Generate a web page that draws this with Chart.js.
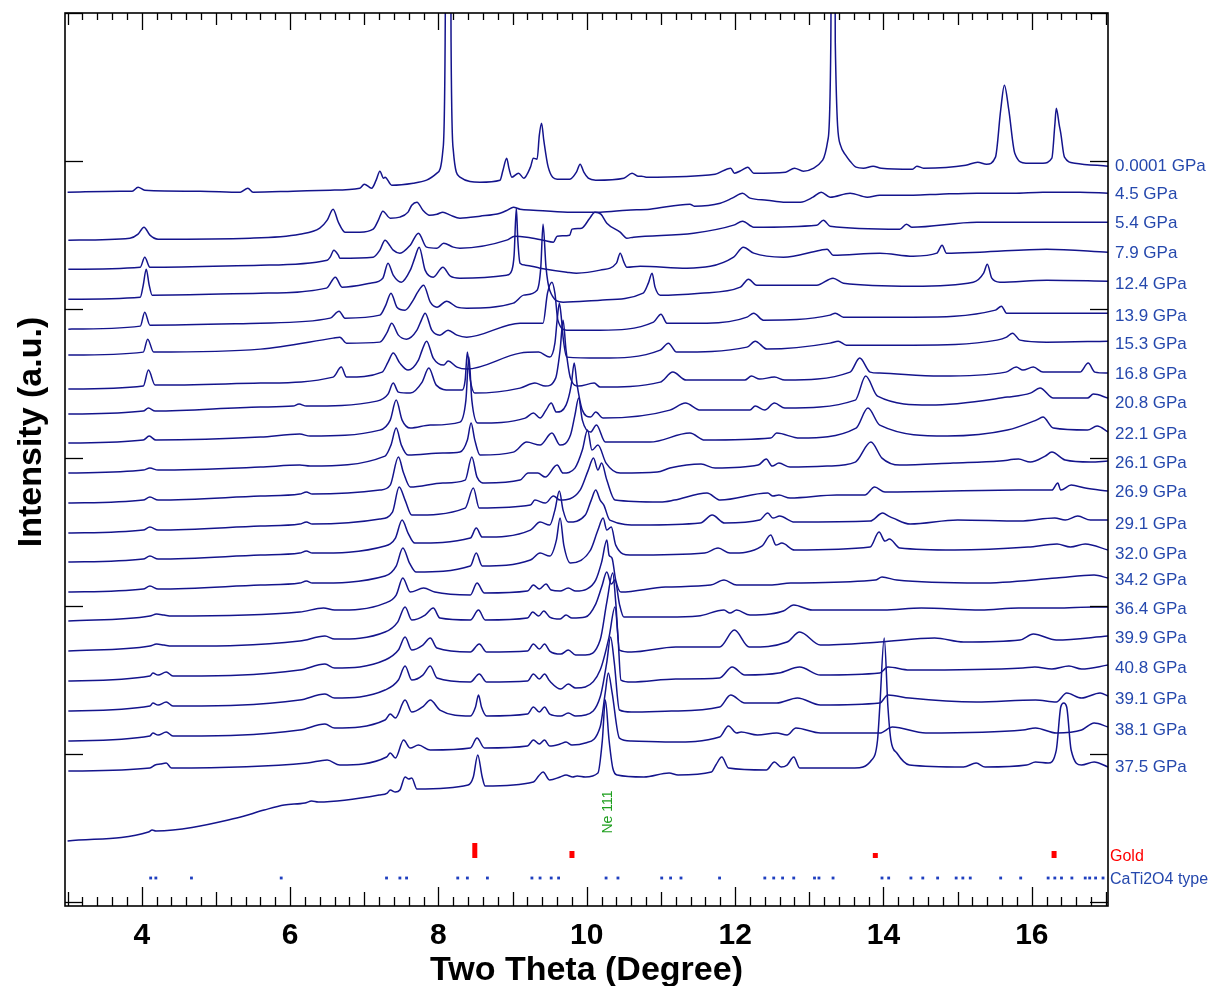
<!DOCTYPE html>
<html><head><meta charset="utf-8">
<script src="https://cdn.jsdelivr.net/npm/chart.js@4.4.1/dist/chart.umd.min.js"></script>
<style>html,body{margin:0;padding:0;background:#fff;}#wrap{position:relative;width:1216px;height:986px;}</style>
</head><body><div id="wrap"><canvas id="c" width="1216" height="986"></canvas></div>
<script>
// ---- pressure labels and the level (intensity) at which each label sits ----
const pressureLabels = ['0.0001 GPa','4.5 GPa','5.4 GPa','7.9 GPa','12.4 GPa','13.9 GPa','15.3 GPa','16.8 GPa','20.8 GPa','22.1 GPa','26.1 GPa','26.9 GPa','29.1 GPa','32.0 GPa','34.2 GPa','36.4 GPa','39.9 GPa','40.8 GPa','39.1 GPa','38.1 GPa','37.5 GPa'];
const labelLevels = [737,709,680,650,619,587,559,529,500,469,440,411,379,349,323,294,265,235,204,173,136];

// ---- patterns: [two theta (deg), intensity (a.u., offset-stacked)] ----
const p0001 = [[3.0,710],[3.71,711],[3.87,711],[3.95,715],[4.04,712],[4.79,711],[5.33,710],[5.43,714],[5.5,710],[6.04,711],[6.54,712],[6.94,714],[7.0,718],[7.1,714],[7.16,722],[7.21,731],[7.26,724],[7.28,725],[7.37,717],[7.66,719],[7.84,722],[7.98,729],[8.06,752],[8.09,860],[8.13,1600],[8.17,860],[8.2,752],[8.29,725],[8.56,720],[8.83,722],[8.87,732],[8.92,744],[8.95,734],[8.99,725],[9.08,729],[9.15,724],[9.24,735],[9.28,744],[9.33,743],[9.36,767],[9.39,779],[9.42,762],[9.48,735],[9.6,723],[9.77,723],[9.86,730],[9.91,738],[9.96,730],[10.02,724],[10.12,722],[10.5,724],[10.61,729],[10.69,726],[10.74,726],[10.8,725],[11.73,728],[11.94,734],[11.99,729],[12.09,732],[12.17,735],[12.25,729],[12.68,730],[12.8,734],[12.92,731],[13.06,734],[13.18,742],[13.25,762],[13.29,860],[13.32,1600],[13.35,860],[13.42,757],[13.49,747],[13.55,741],[13.63,735],[13.73,734],[13.86,736],[13.97,734],[14.39,733],[14.45,736],[14.54,734],[15.11,737],[15.27,740],[15.39,738],[15.51,745],[15.58,792],[15.63,817],[15.69,792],[15.77,749],[15.92,739],[16.15,739],[16.27,744],[16.31,777],[16.33,794],[16.37,777],[16.39,769],[16.44,745],[16.58,739],[17.03,736]];
const p45 = [[3.01,662],[3.84,664],[3.95,668],[4.03,675],[4.11,667],[4.22,663],[5.46,664],[6.13,668],[6.4,674],[6.5,682],[6.58,693],[6.65,680],[6.74,670],[6.94,670],[7.12,673],[7.19,682],[7.25,691],[7.35,684],[7.48,685],[7.59,690],[7.64,697],[7.71,700],[7.79,692],[7.88,687],[7.98,688],[8.06,690],[8.16,687],[8.29,684],[8.56,686],[8.83,689],[8.93,692],[9.01,695],[9.1,693],[9.28,692],[9.74,690],[10.18,690],[10.54,692],[10.85,693],[11.39,698],[11.45,696],[11.8,699],[11.96,704],[12.1,709],[12.2,704],[12.43,702],[12.65,700],[12.88,700],[13.05,705],[13.16,710],[13.28,705],[13.55,709],[13.78,705],[13.95,707],[14.4,707],[14.76,708],[15.26,709],[15.75,709],[16.15,710],[16.65,710],[17.03,709]];
const p54 = [[3.01,633],[3.98,635],[4.04,645],[4.11,635],[5.6,637],[6.5,642],[6.54,645],[6.59,652],[6.65,647],[6.67,644],[7.12,645],[7.21,652],[7.28,662],[7.35,656],[7.39,652],[7.48,649],[7.62,657],[7.73,669],[7.84,655],[7.98,654],[8.07,659],[8.2,655],[8.29,654],[8.92,662],[9.03,666],[9.19,665],[9.41,662],[9.55,660],[9.6,666],[9.77,667],[9.8,673],[9.93,674],[10.04,684],[10.11,690],[10.19,688],[10.27,679],[10.45,670],[10.54,664],[10.63,665],[11.44,669],[11.98,677],[12.1,681],[12.25,675],[13.1,677],[13.19,682],[13.28,676],[14.22,673],[14.31,678],[14.38,675],[15.26,680],[16.96,680],[17.03,680]];
const p79 = [[3.01,603],[3.98,605],[4.02,617],[4.06,633],[4.1,617],[4.14,607],[5.6,609],[6.49,614],[6.61,625],[6.7,615],[7.08,619],[7.25,624],[7.32,639],[7.39,627],[7.5,620],[7.62,632],[7.68,644],[7.74,655],[7.82,632],[7.93,625],[8.06,635],[8.16,626],[8.29,624],[8.92,627],[8.99,632],[9.02,647],[9.05,694],[9.07,662],[9.1,639],[9.17,637],[9.37,634],[9.73,630],[9.86,629],[10.18,632],[10.4,639],[10.45,649],[10.5,640],[10.54,635],[10.72,636],[11.35,634],[11.98,645],[12.11,655],[12.25,649],[12.65,645],[13.15,652],[13.24,653],[13.32,647],[13.95,649],[14.4,646],[14.72,649],[14.79,657],[14.85,649],[15.3,650],[16.2,653],[17.03,650]];
const p124 = [[3.01,573],[3.98,576],[4.04,590],[4.11,577],[5.6,579],[6.54,584],[6.66,591],[6.74,584],[7.21,587],[7.29,597],[7.36,609],[7.44,595],[7.55,592],[7.66,602],[7.72,610],[7.8,617],[7.89,600],[7.98,595],[8.11,601],[8.25,595],[8.38,594],[9.01,599],[9.15,607],[9.33,612],[9.38,635],[9.41,678],[9.45,635],[9.5,612],[9.68,600],[10.18,602],[10.76,609],[10.83,619],[10.88,629],[10.92,615],[10.99,607],[11.53,609],[12.07,615],[12.18,623],[12.29,617],[13.1,617],[13.32,624],[13.46,619],[14.4,616],[15.21,620],[15.35,629],[15.4,638],[15.46,624],[15.57,620],[16.2,622],[17.03,621]];
const p139 = [[3.01,547],[4.02,550],[4.08,563],[4.16,550],[5.6,553],[6.58,564],[6.67,565],[6.76,559],[7.21,560],[7.31,570],[7.37,579],[7.46,567],[7.57,563],[7.71,572],[7.77,582],[7.82,589],[7.91,572],[8.02,567],[8.13,572],[8.25,567],[8.38,565],[9.1,579],[9.41,579],[9.47,609],[9.53,620],[9.57,609],[9.61,582],[9.73,572],[10.18,572],[10.9,580],[11.0,588],[11.08,579],[11.62,579],[12.16,585],[12.25,589],[12.38,582],[13.28,587],[13.35,589],[13.46,585],[14.4,585],[15.51,592],[15.59,596],[15.66,589],[16.2,589],[17.03,589]];
const p153 = [[3.01,513],[4.02,516],[4.09,532],[4.18,517],[5.6,519],[6.58,525],[6.69,535],[6.76,525],[7.24,530],[7.32,540],[7.39,549],[7.48,539],[7.59,532],[7.73,542],[7.78,552],[7.84,561],[7.93,544],[8.07,537],[8.13,541],[8.25,535],[8.38,533],[9.1,549],[9.35,550],[9.5,545],[9.57,559],[9.6,582],[9.63,599],[9.66,582],[9.68,565],[9.73,545],[10.18,544],[10.99,552],[11.1,559],[11.21,550],[12.16,555],[12.27,561],[12.43,553],[13.28,559],[13.39,561],[13.5,557],[14.4,557],[15.53,562],[15.66,565],[15.74,569],[15.84,562],[16.2,560],[17.03,561]];
const p168 = [[3.01,488],[4.02,491],[4.09,494],[4.18,491],[5.6,495],[6.04,496],[6.12,498],[6.22,496],[7.17,501],[7.32,508],[7.39,519],[7.46,510],[7.62,509],[7.78,520],[7.87,534],[7.97,517],[8.16,512],[8.32,512],[8.36,522],[8.39,550],[8.43,522],[8.49,509],[9.1,514],[9.3,519],[9.44,516],[9.58,524],[9.64,552],[9.68,582],[9.72,552],[9.78,524],[9.89,516],[10.1,519],[10.18,515],[10.99,520],[11.16,530],[11.34,522],[12.13,522],[12.22,526],[12.33,523],[12.53,525],[12.67,522],[13.55,530],[13.68,544],[13.82,530],[13.95,529],[14.76,526],[15.65,530],[15.79,535],[15.88,532],[16.02,535],[16.15,530],[16.65,530],[16.76,539],[16.85,530],[17.03,529]];
const p208 = [[3.01,459],[4.02,462],[4.1,466],[4.19,462],[5.6,465],[6.13,468],[6.27,466],[7.21,472],[7.35,482],[7.43,502],[7.51,482],[7.62,474],[7.89,477],[8.29,480],[8.37,502],[8.41,545],[8.45,502],[8.53,479],[9.17,484],[9.28,489],[9.37,484],[9.45,492],[9.52,499],[9.59,490],[9.72,497],[9.79,517],[9.83,539],[9.87,517],[9.94,492],[10.05,485],[10.12,490],[10.22,484],[11.12,492],[11.33,499],[11.53,492],[12.2,492],[12.27,496],[12.4,492],[12.53,499],[12.67,494],[13.62,502],[13.76,526],[13.92,506],[14.63,497],[15.67,505],[15.98,509],[16.11,514],[16.29,504],[16.75,504],[16.83,508],[17.03,504]];
const p221 = [[3.01,429],[4.02,432],[4.11,434],[4.22,432],[5.6,435],[6.13,437],[6.27,436],[7.28,446],[7.36,457],[7.43,474],[7.5,457],[7.59,447],[8.06,449],[8.29,450],[8.39,462],[8.44,479],[8.49,462],[8.56,447],[9.01,450],[9.19,460],[9.37,457],[9.53,469],[9.64,457],[9.78,467],[9.84,487],[9.89,504],[9.94,482],[10.05,470],[10.13,477],[10.25,460],[10.85,460],[11.39,469],[11.59,462],[12.48,464],[12.56,469],[12.87,464],[13.63,474],[13.79,494],[13.95,477],[14.86,466],[15.67,472],[16.06,482],[16.15,485],[16.29,474],[16.75,472],[16.88,476],[17.03,470]];
const p261 = [[3.01,399],[4.02,402],[4.11,405],[4.22,402],[5.6,406],[6.13,408],[6.22,410],[6.3,408],[7.21,412],[7.35,417],[7.46,445],[7.53,429],[7.62,415],[8.06,419],[8.36,422],[8.45,445],[8.52,425],[8.63,419],[9.1,422],[9.21,429],[9.34,429],[9.44,425],[9.6,437],[9.68,429],[9.84,434],[9.94,452],[10.01,472],[10.07,452],[10.15,457],[10.26,439],[10.45,429],[10.95,430],[11.12,434],[11.54,438],[11.73,434],[12.31,437],[12.42,443],[12.5,436],[12.59,439],[12.74,435],[13.24,436],[13.62,440],[13.83,460],[13.98,444],[14.22,437],[14.94,439],[15.57,441],[15.82,443],[15.98,440],[16.18,446],[16.27,450],[16.45,442],[16.79,440],[17.03,441]];
const p269 = [[3.01,369],[4.02,372],[4.11,375],[4.22,372],[5.6,376],[6.13,378],[6.22,380],[6.3,378],[7.21,383],[7.38,390],[7.47,415],[7.55,402],[7.64,387],[8.36,394],[8.47,414],[8.55,394],[9.24,397],[9.3,402],[9.44,399],[9.55,406],[9.64,402],[9.91,412],[10.02,432],[10.09,444],[10.15,432],[10.2,439],[10.27,422],[10.38,402],[10.99,400],[11.18,402],[11.62,409],[11.8,402],[12.44,409],[12.51,406],[12.59,407],[12.74,404],[13.37,407],[13.75,407],[13.88,415],[14.02,410],[15.82,412],[16.27,412],[16.35,419],[16.39,412],[16.53,417],[16.72,414],[17.03,411]];
const p291 = [[3.01,340],[4.02,343],[4.11,346],[4.22,343],[5.6,347],[6.13,349],[6.22,351],[6.3,349],[7.28,356],[7.42,364],[7.51,382],[7.59,369],[7.68,359],[8.43,364],[8.51,374],[8.59,365],[9.24,372],[9.37,380],[9.5,377],[9.57,392],[9.63,411],[9.68,392],[9.75,380],[9.98,387],[10.06,402],[10.12,412],[10.18,402],[10.23,397],[10.31,382],[10.72,377],[11.53,379],[11.69,387],[11.86,379],[12.33,382],[12.44,389],[12.51,384],[12.6,386],[12.8,380],[13.82,381],[13.99,389],[14.07,386],[14.13,384],[14.36,378],[15.0,382],[15.84,381],[16.31,384],[16.45,382],[16.62,386],[16.79,382],[17.03,382]];
const p320 = [[3.01,310],[4.02,313],[4.11,316],[4.22,313],[5.6,317],[6.13,319],[6.22,321],[6.3,319],[7.28,326],[7.43,336],[7.52,354],[7.61,339],[7.7,330],[8.43,336],[8.51,349],[8.59,336],[9.24,342],[9.37,349],[9.5,346],[9.59,362],[9.64,384],[9.69,357],[9.78,339],[10.05,352],[10.15,372],[10.22,384],[10.27,372],[10.33,375],[10.39,357],[10.58,347],[11.59,349],[11.77,354],[11.93,349],[12.36,356],[12.48,367],[12.55,357],[12.63,359],[12.8,352],[13.82,355],[13.94,370],[14.02,361],[14.08,363],[14.22,354],[14.96,352],[15.95,355],[16.34,358],[16.52,355],[16.72,358],[17.03,352]];
const p342 = [[3.01,281],[4.11,286],[4.2,288],[4.3,287],[4.4,286],[6.13,290],[6.45,294],[6.6,292],[7.28,299],[7.43,307],[7.52,324],[7.62,310],[7.8,314],[7.95,310],[8.43,307],[8.52,319],[8.62,309],[9.2,311],[9.28,317],[9.36,313],[9.45,318],[9.52,312],[9.64,311],[9.75,314],[9.85,311],[10.0,313],[10.12,322],[10.2,340],[10.27,362],[10.3,347],[10.34,344],[10.39,322],[10.46,310],[11.06,315],[11.67,317],[11.85,322],[12.02,317],[12.47,317],[12.75,319],[13.89,322],[13.98,325],[14.18,322],[15.31,319],[16.33,324],[16.84,327],[17.03,324]];
const p364 = [[3.01,251],[4.11,256],[4.2,258],[4.3,257],[4.4,256],[6.13,261],[6.47,266],[6.6,263],[7.28,270],[7.45,280],[7.55,295],[7.64,282],[7.82,287],[7.93,294],[8.02,284],[8.43,282],[8.54,292],[8.63,282],[9.2,284],[9.27,290],[9.35,286],[9.42,291],[9.5,285],[9.64,283],[9.72,287],[9.8,284],[9.98,285],[10.12,298],[10.2,315],[10.27,330],[10.33,318],[10.38,322],[10.44,298],[10.5,285],[11.09,285],[11.5,286],[11.85,292],[11.93,289],[12.02,292],[12.2,287],[12.47,288],[12.65,291],[12.79,297],[13.04,292],[14.0,292],[14.51,294],[15.31,292],[15.82,294],[16.33,294],[16.84,295],[17.03,295]];
const p399 = [[3.01,221],[4.11,226],[4.15,229],[4.22,227],[4.33,230],[4.42,226],[6.13,232],[6.47,238],[6.6,234],[7.28,242],[7.46,252],[7.55,265],[7.64,252],[7.79,257],[7.89,264],[7.98,254],[8.43,250],[8.55,258],[8.65,250],[9.2,251],[9.28,258],[9.36,253],[9.43,258],[9.5,251],[9.65,248],[9.75,252],[9.85,247],[9.98,247],[10.18,262],[10.27,300],[10.35,329],[10.39,300],[10.44,252],[10.6,250],[11.2,255],[11.79,255],[11.99,272],[12.19,255],[12.7,260],[12.87,270],[13.15,257],[13.95,260],[14.69,264],[15.08,260],[15.84,262],[16.02,268],[16.33,262],[17.03,266]];
const p408 = [[3.01,191],[4.11,196],[4.15,199],[4.22,197],[4.33,200],[4.42,196],[6.13,202],[6.47,208],[6.6,204],[7.28,212],[7.46,222],[7.55,236],[7.64,222],[7.79,227],[7.89,236],[7.98,224],[8.43,220],[8.55,228],[8.65,220],[9.2,221],[9.28,228],[9.36,223],[9.43,228],[9.5,221],[9.65,213],[9.75,218],[9.85,214],[9.98,215],[10.18,232],[10.3,265],[10.38,295],[10.42,265],[10.46,222],[10.6,220],[11.2,223],[11.79,224],[11.96,235],[12.13,227],[12.59,229],[12.87,235],[13.15,227],[13.95,229],[14.06,235],[14.35,232],[15.88,234],[16.04,235],[16.27,233],[16.5,236],[16.67,233],[17.03,237]];
const p391 = [[3.01,161],[4.11,166],[4.15,169],[4.22,167],[4.33,170],[4.42,166],[6.13,172],[6.47,178],[6.6,174],[7.28,182],[7.35,188],[7.42,184],[7.55,202],[7.64,190],[7.8,196],[7.89,202],[8.02,192],[8.43,186],[8.5,195],[8.54,207],[8.58,195],[8.65,186],[9.2,188],[9.28,195],[9.36,190],[9.43,195],[9.5,188],[9.65,186],[9.75,189],[9.85,186],[9.98,187],[10.18,205],[10.27,240],[10.32,265],[10.37,240],[10.44,192],[10.6,190],[11.14,191],[11.79,195],[11.94,207],[12.13,199],[12.56,199],[12.84,204],[13.15,197],[13.95,199],[14.06,207],[14.35,204],[15.25,200],[16.05,202],[16.33,200],[16.47,209],[16.67,204],[16.92,209],[17.03,206]];
const p381 = [[3.01,131],[4.11,134],[4.18,137],[4.25,138],[4.33,139],[4.4,134],[6.23,139],[6.5,142],[6.67,137],[7.3,145],[7.35,149],[7.42,144],[7.53,162],[7.62,154],[7.73,157],[7.89,152],[8.43,154],[8.52,164],[8.62,154],[9.2,156],[9.28,162],[9.36,158],[9.43,162],[9.5,156],[9.64,158],[9.72,160],[9.8,157],[9.98,159],[10.18,175],[10.25,210],[10.29,229],[10.34,210],[10.44,164],[10.6,161],[11.14,160],[11.79,165],[11.91,176],[12.02,169],[12.08,170],[12.3,167],[12.56,169],[12.7,167],[12.82,174],[13.15,169],[13.95,169],[14.12,175],[14.57,169],[15.88,172],[16.05,174],[16.33,169],[16.67,172],[16.84,179],[17.03,175]];
const p375 = [[3.0,61],[4.09,70],[4.14,72],[4.19,71],[5.28,84],[5.65,92],[5.92,97],[6.2,99],[6.29,101],[6.38,100],[7.2,107],[7.31,109],[7.35,112],[7.42,110],[7.48,112],[7.55,125],[7.6,123],[7.64,124],[7.71,113],[8.4,117],[8.47,125],[8.53,147],[8.59,125],[8.63,116],[9.28,120],[9.35,126],[9.41,130],[9.5,122],[9.64,125],[9.72,127],[9.81,125],[9.87,126],[9.98,125],[10.15,129],[10.21,162],[10.25,202],[10.3,162],[10.35,134],[10.41,127],[10.77,125],[11.11,129],[11.23,127],[11.68,130],[11.74,137],[11.82,145],[11.91,134],[12.42,132],[12.53,140],[12.62,135],[12.7,137],[12.79,145],[12.87,134],[13.61,134],[13.84,142],[13.92,162],[13.95,195],[14.01,264],[14.06,195],[14.1,162],[14.18,149],[14.35,137],[15.08,135],[15.25,139],[15.37,135],[15.93,137],[16.05,140],[16.22,139],[16.33,152],[16.39,195],[16.43,199],[16.47,195],[16.53,152],[16.67,137],[16.84,140],[17.03,135]];
const patterns = [p0001,p45,p54,p79,p124,p139,p153,p168,p208,p221,p261,p269,p291,p320,p342,p364,p399,p408,p391,p381,p375];

// ---- reference markers ----
const goldPeaks = [8.49, 9.80, 13.89, 16.30];
const goldHeights = [15, 7, 5, 7];
const goldBase = 44;
const caTi2O4Peaks = [4.12,4.19,4.67,5.88,7.30,7.48,7.57,8.26,8.39,8.66,9.26,9.37,9.52,9.62,10.26,10.42,11.01,11.13,11.27,11.79,12.40,12.52,12.64,12.79,13.07,13.13,13.32,13.98,14.07,14.37,14.53,14.73,14.98,15.07,15.17,15.58,15.85,16.22,16.31,16.40,16.54,16.72,16.78,16.86,16.96];
const caTi2O4Level = 24;
const ne111 = 10.25;

// ---- axes ----
const xTickLabels = [4,6,8,10,12,14,16];
const yTickLevels = [0,148.2,296.4,444.6,592.8,741,889.2];

const curveColor = '#14148c';
const labelColor = '#2548ad';

const datasets = patterns.map(p => ({
  data: p.map(q => ({x:q[0], y:q[1]})),
  borderColor: curveColor, borderWidth: 1.5, pointRadius: 0,
  cubicInterpolationMode: 'monotone', fill: false
}));
const goldData = [];
goldPeaks.forEach((g,i) => { goldData.push({x:g,y:goldBase},{x:g,y:goldBase+goldHeights[i]},{x:g,y:null}); });
datasets.push({data: goldData, borderColor:'#ff0000', borderWidth:5, pointRadius:0, tension:0, spanGaps:false, borderCapStyle:'butt'});
datasets.push({data: caTi2O4Peaks.map(c => ({x:c, y:caTi2O4Level})), showLine:false, pointStyle:'rect', pointRadius:2, pointBackgroundColor:'#1f3fbf', pointBorderWidth:0, borderColor:'#1f3fbf'});

const deco = {
  id: 'deco',
  afterDatasetsDraw(chart) {
    const {ctx, chartArea: a, scales: {x, y}} = chart;
    ctx.save();
    const seg = (x1,y1,x2,y2) => { ctx.beginPath(); ctx.moveTo(x1,y1); ctx.lineTo(x2,y2); ctx.stroke(); };
    ctx.strokeStyle = '#000';
    ctx.lineWidth = 1.3;
    for (let i = 15; i <= 85; i++) {
      const px = Math.round(x.getPixelForValue(i/5)) + 0.5;
      let lb, lt;
      if (i % 10 === 0) { lb = 19; lt = 17; } else if (i % 5 === 0) { lb = 14; lt = 12; } else { lb = 9; lt = 7; }
      seg(px, a.bottom, px, a.bottom - lb);
      seg(px, a.top, px, a.top + lt);
    }
    yTickLevels.forEach(v => {
      const py = Math.round(y.getPixelForValue(v)) + 0.5;
      seg(a.left, py, a.left + 18, py);
      seg(a.right, py, a.right - 18, py);
    });
    ctx.lineWidth = 1.6;
    ctx.strokeRect(a.left, a.top, a.right - a.left, a.bottom - a.top);

    // tick labels
    ctx.fillStyle = '#000';
    ctx.font = 'bold 30px "Liberation Sans", Arial, sans-serif';
    ctx.textAlign = 'center'; ctx.textBaseline = 'alphabetic';
    xTickLabels.forEach(t => ctx.fillText(String(t), x.getPixelForValue(t), 944));
    ctx.font = 'bold 34px "Liberation Sans", Arial, sans-serif';
    ctx.fillText('Two Theta (Degree)', (a.left + a.right)/2, 980);
    ctx.save();
    ctx.translate(41, 432); ctx.rotate(-Math.PI/2);
    ctx.fillText('Intensity (a.u.)', 0, 0);
    ctx.restore();

    // pressure labels
    ctx.textAlign = 'left';
    ctx.font = '17px "Liberation Sans", Arial, sans-serif';
    ctx.fillStyle = labelColor;
    pressureLabels.forEach((s,i) => ctx.fillText(s, 1115, y.getPixelForValue(labelLevels[i]) + 6));
    ctx.font = '16px "Liberation Sans", Arial, sans-serif';
    ctx.fillStyle = '#ff0000';
    ctx.fillText('Gold', 1110, y.getPixelForValue(goldBase + 3) + 6);
    ctx.fillStyle = labelColor;
    ctx.fillText('CaTi2O4 type', 1110, y.getPixelForValue(caTi2O4Level) + 6);

    // Ne 111 marker label
    ctx.save();
    ctx.fillStyle = '#1f9f1f';
    ctx.font = '14px "Liberation Sans", Arial, sans-serif';
    ctx.textAlign = 'center';
    ctx.translate(x.getPixelForValue(ne111) + 7, y.getPixelForValue(90)); ctx.rotate(-Math.PI/2);
    ctx.fillText('Ne 111', 0, 0);
    ctx.restore();
    ctx.restore();
  }
};

new Chart(document.getElementById('c'), {
  type: 'line',
  data: { datasets },
  options: {
    responsive: false, animation: false, devicePixelRatio: 1,
    layout: { padding: { left: 65, right: 108, top: 13, bottom: 80 } },
    scales: {
      x: { type: 'linear', min: 2.965, max: 17.027, display: false },
      y: { type: 'linear', min: -4, max: 889.2, display: false }
    },
    plugins: { legend: { display: false }, tooltip: { enabled: false } },
    elements: { line: { borderJoinStyle: 'round' } }
  },
  plugins: [deco]
});
</script>
</body></html>
